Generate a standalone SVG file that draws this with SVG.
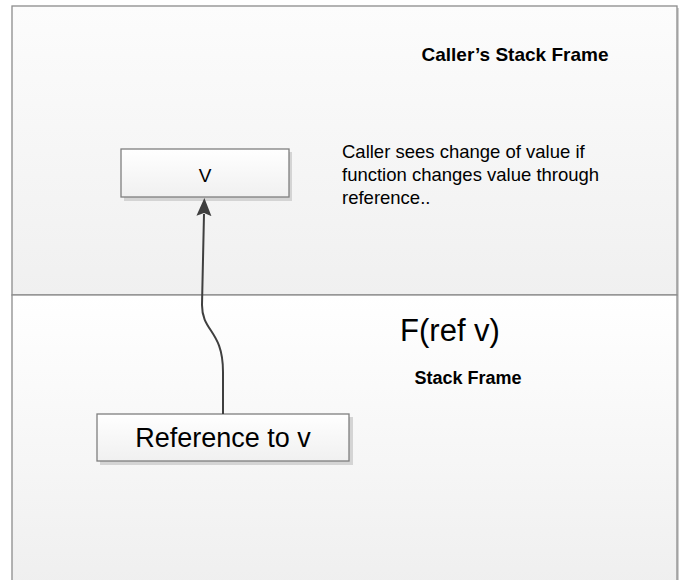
<svg xmlns="http://www.w3.org/2000/svg" width="690" height="580" viewBox="0 0 690 580">
<style>
.t{font-family:"Liberation Sans",Arial,sans-serif;fill:#000}
.b{font-weight:bold}
.box{stroke:#7f7f7f;stroke-width:1.3;fill:url(#gb)}
.sh{fill:#d4d4d4}
.conn{fill:none;stroke:#3f3f3f;stroke-width:2}
</style>
<defs>
<linearGradient id="gu" x1="0" y1="0" x2="0" y2="1"><stop offset="0" stop-color="#fcfcfc"/><stop offset="1" stop-color="#f0f0f0"/></linearGradient>
<linearGradient id="gl" x1="0" y1="0" x2="0" y2="1"><stop offset="0" stop-color="#ffffff"/><stop offset="1" stop-color="#efefef"/></linearGradient>
<linearGradient id="gb" x1="0" y1="0" x2="0" y2="1"><stop offset="0" stop-color="#ffffff"/><stop offset="1" stop-color="#f0f0f0"/></linearGradient>
<marker id="ah" markerWidth="20" markerHeight="20" refX="2" refY="9" orient="auto" markerUnits="userSpaceOnUse"><path d="M0,1.5 L18,9 L0,16.5 L3,9 z" fill="#3f3f3f"/></marker>
</defs>
<g id="callerFrame">
<rect x="14" y="8" width="665" height="289" fill="#cfcfcf"/>
<rect x="12" y="6" width="665" height="289" fill="url(#gu)" stroke="#8c8c8c" stroke-width="1.3"/>
<text class="t b" x="515" y="61" font-size="19" text-anchor="middle">Caller’s Stack Frame</text>
<text class="t" x="342" y="158" font-size="18.5">Caller sees change of value if</text>
<text class="t" x="342" y="181" font-size="18.5">function changes value through</text>
<text class="t" x="342" y="204" font-size="18.5">reference..</text>
</g>
<g id="calleeFrame">
<rect x="14" y="297" width="665" height="290" fill="#cfcfcf"/>
<rect x="12" y="295" width="665" height="292" fill="url(#gl)" stroke="#8c8c8c" stroke-width="1.3"/>
<text class="t" x="450" y="341" font-size="31" text-anchor="middle">F(ref v)</text>
<text class="t b" x="468" y="384" font-size="18" text-anchor="middle">Stack Frame</text>
</g>
<g id="nodeV">
<rect class="sh" x="124" y="152" width="168" height="49"/>
<rect class="box" x="121" y="149" width="168" height="48"/>
<text class="t" x="205" y="182" font-size="19" text-anchor="middle">V</text>
</g>
<g id="nodeRef">
<rect class="sh" x="100" y="417" width="253" height="48"/>
<rect class="box" x="97" y="414" width="252" height="47"/>
<text class="t" x="223" y="447" font-size="27" text-anchor="middle">Reference to v</text>
</g>
<g id="connectors">
<path class="conn" d="M223,414 L223,372 C223,330 202,332 202,305 L204,214" marker-end="url(#ah)"/>
</g>
</svg>
